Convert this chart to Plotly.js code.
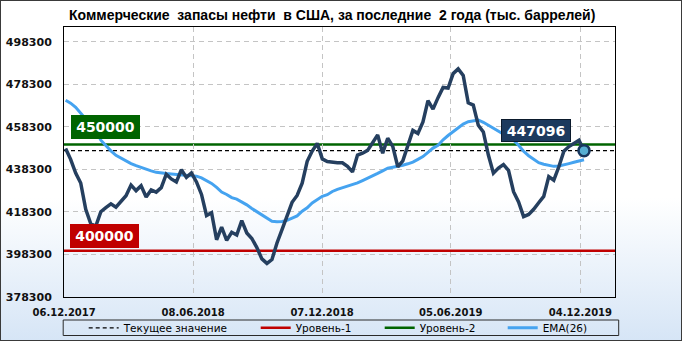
<!DOCTYPE html>
<html><head><meta charset="utf-8">
<script src="https://cdn.plot.ly/plotly-3.0.1.min.js"></script>
<style>
html,body{margin:0;padding:0;background:#fff;}
#wrap{position:relative;width:682px;height:341px;background:linear-gradient(to bottom,#ffffff 0%,#ffffff 58%,#d6e5f6 100%);}
#chart{position:absolute;left:0;top:0;width:682px;height:341px;}
#frame{position:absolute;left:0;top:0;width:682px;height:341px;box-sizing:border-box;border:1px solid #3a3a3a;pointer-events:none;}
</style></head><body>
<div id="wrap"><div id="chart"></div><div id="frame"></div></div>
<script>
// Commercial crude stocks, thousand barrels (weekly, as drawn)
const stocks = [
 448100,443000,436500,431900,419500,412700,411600,418400,420300,422100,
 420500,423500,425900,430900,428300,430600,425300,428600,427600,429700,
 436000,433800,432400,438100,434500,436600,432400,426500,416600,417900,
 405200,411100,404900,408700,407400,414200,408400,405800,401500,396200,
 394100,395900,403700,410000,416400,422800,426000,431800,442100,446900,
 450500,443200,442000,441500,441400,441400,439700,437100,445000,445900,
 447200,450800,454500,445900,452900,449100,439500,442300,449500,456600,
 455200,460600,470600,466600,472000,476800,476500,483300,485500,482400,
 469600,468500,459000,455900,445000,436500,438900,440500,437800,427800,
 423000,416100,417100,419500,422600,425600,434900,433200,439500,446800,
 449000,450400,452000,447096
];
const ema26 = [
 470800,469400,467500,464700,462100,459500,456400,452000,449400,447000,
 444900,443600,442100,441000,440000,439100,438300,437600,436900,436500,
 436300,436100,435900,435800,435700,435600,435100,434300,433000,431700,
 429800,427600,426500,425000,424300,423100,421600,419900,418400,416700,
 415000,413900,413700,413800,414300,415400,416400,418600,420200,422500,
 424200,425600,426400,427900,428900,429600,430300,431100,431900,433000,
 434100,435000,436400,437600,438800,439300,439600,440200,440900,441700,
 443000,444300,446300,448300,449600,452200,454200,456100,458100,459600,
 460700,461200,461500,460400,459000,457800,456400,454900,453400,452000,
 449600,446800,444700,443000,441400,440700,440200,439700,439900,440300,
 441000,441600,442200,442800
];
const level1 = 400000;
const level2 = 450000;
const yTicks = [378300,398300,418300,438300,458300,478300,498300];
const xTickLabels = ['06.12.2017','08.06.2018','07.12.2018','05.06.2019','04.12.2019'];
const seriesNames = ['Текущее значение','Уровень-1','Уровень-2','EMA(26)'];

// weekly report dates (one week absent in the drawn series)
const missingDate = '03.01.2018';
const releaseDates = (function(){
  const out=[]; let t=Date.UTC(2017,11,6);
  const pad=n=>String(n).padStart(2,'0');
  while(out.length<stocks.length){
    const d=new Date(t);
    const s=pad(d.getUTCDate())+'.'+pad(d.getUTCMonth()+1)+'.'+d.getUTCFullYear();
    if(s!==missingDate) out.push(s);
    t+=7*86400000;
  }
  return out;
})();
const lastIdx = stocks.length-1;
const current = stocks[lastIdx];

// ---- layout geometry (pixels) ----
const FW=682, FH=341;
const L=64.3, R=615.3, T=27, B=297, W=R-L, H=B-T;
const px2x = p => (p-L)/W;
const py2y = p => (B-p)/H;

const tickFontY = {family:'DejaVu Sans', size:11, color:'#111', weight:'bold'};
const gridStyle = {showgrid:true, gridcolor:'#c4c4c4', gridwidth:1, griddash:'5px,4px'};

const traces = [
  {x:releaseDates, y:ema26, type:'scatter', mode:'lines', name:seriesNames[3], legend:'legend4',
   line:{color:'#45a3f0', width:3}, hoverinfo:'x+y'},
  {x:releaseDates, y:stocks, type:'scatter', mode:'lines', name:'Запасы', showlegend:false,
   line:{color:'#253f5f', width:3.5}, hoverinfo:'x+y'},
  {x:[releaseDates[lastIdx]], y:[current], type:'scatter', mode:'markers', showlegend:false,
   marker:{size:11, color:'#56aed2', line:{color:'#17365d', width:2.5}}, hoverinfo:'x+y'}
];

const legendBase = {orientation:'h', xanchor:'left', yanchor:'middle', yref:'container', y:1-327.8/FH,
  bgcolor:'rgba(0,0,0,0)', borderwidth:0, font:{family:'DejaVu Sans', size:10.5, color:'#000'}};

const layout = {
  width:FW, height:FH,
  margin:{l:L, r:FW-R, t:T, b:FH-B, pad:0, autoexpand:false},
  paper_bgcolor:'rgba(0,0,0,0)', plot_bgcolor:'rgba(0,0,0,0)',
  title:{text:'Коммерческие\u00a0 запасы нефти\u00a0 в США, за последние\u00a0 2 года (тыс. баррелей)',
    font:{family:'Liberation Sans', size:14, color:'#000', weight:'bold'},
    xref:'paper', x:px2x(332.5), xanchor:'center', yref:'container', y:1-15.5/FH, yanchor:'middle'},
  xaxis:Object.assign({type:'category', range:[-0.32,109.16], tickmode:'array',
    tickvals:[-0.3,25.33,50.95,76.52,102.28], ticktext:xTickLabels,
    showline:true, linecolor:'#000', linewidth:1, mirror:true, ticks:'', zeroline:false,
    tickfont:{family:'DejaVu Sans', size:10, color:'#111', weight:'bold'}, ticklabelstandoff:6,
    automargin:false}, gridStyle),
  yaxis:Object.assign({range:[378300,505200], tickmode:'array', tickvals:yTicks, ticktext:yTicks.map(String),
    showline:true, linecolor:'#000', linewidth:1, mirror:true, ticks:'', zeroline:false,
    tickfont:tickFontY, ticklabelstandoff:9, automargin:false}, gridStyle),
  yaxis2:{overlaying:'y', side:'right', range:[378300,505200], tickmode:'array', tickvals:yTicks,
    ticktext:yTicks.map(String), showgrid:false, showline:false, zeroline:false, ticks:'',
    tickfont:tickFontY, ticklabelstandoff:9, automargin:false},
  showlegend:true,
  legend:Object.assign({}, legendBase, {x:px2x(84)}),
  legend2:Object.assign({}, legendBase, {x:px2x(256)}),
  legend3:Object.assign({}, legendBase, {x:px2x(380)}),
  legend4:Object.assign({}, legendBase, {x:px2x(503)}),
  shapes:[
    {type:'line', xref:'paper', x0:0, x1:1, yref:'y', y0:current, y1:current, layer:'below',
     line:{color:'#000', width:1.2, dash:'4px,3px'}, showlegend:true, name:seriesNames[0], legend:'legend'},
    {type:'line', xref:'paper', x0:0, x1:1, yref:'y', y0:level1, y1:level1, layer:'below',
     line:{color:'#c00000', width:2.5}, showlegend:true, name:seriesNames[1], legend:'legend2'},
    {type:'line', xref:'paper', x0:0, x1:1, yref:'y', y0:level2, y1:level2, layer:'below',
     line:{color:'#006400', width:2.5}, showlegend:true, name:seriesNames[2], legend:'legend3'},
    {type:'rect', xref:'paper', yref:'paper', x0:px2x(63.5), x1:px2x(619), y0:py2y(320), y1:py2y(335.5),
     line:{color:'#2a2a2a', width:1}, fillcolor:'rgba(0,0,0,0)', layer:'above'}
  ],
  annotations:[
    {xref:'paper', x:px2x(71), xanchor:'left', yref:'y', y:level2, yanchor:'bottom', yshift:5.5,
     text:String(level2), showarrow:false, bgcolor:'#006400', borderwidth:0, borderpad:4, width:61, height:16,
     font:{family:'DejaVu Sans', size:14, color:'#fff', weight:'bold'}},
    {xref:'paper', x:px2x(70), xanchor:'left', yref:'y', y:level1, yanchor:'bottom', yshift:3.2,
     text:String(level1), showarrow:false, bgcolor:'#c00000', borderwidth:0, borderpad:4, width:61, height:16,
     font:{family:'DejaVu Sans', size:14, color:'#fff', weight:'bold'}},
    {xref:'paper', x:px2x(501), xanchor:'left', yref:'y', y:current, yanchor:'bottom', yshift:8.2,
     text:String(current), showarrow:false, bgcolor:'#1c3a5e', bordercolor:'#0b1a2c', borderwidth:1, borderpad:3, width:62, height:15,
     font:{family:'DejaVu Sans', size:14, color:'#fff', weight:'bold'}}
  ],
  hovermode:'closest'
};

Plotly.newPlot('chart', traces, layout, {displayModeBar:false, responsive:false});
</script>
</body></html>
